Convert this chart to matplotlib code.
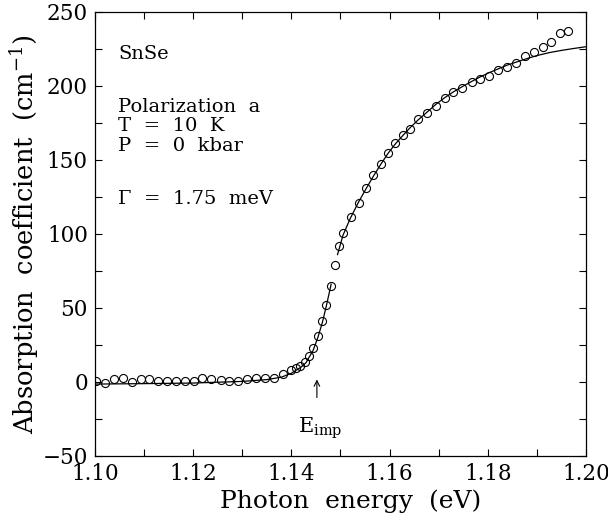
import matplotlib
matplotlib.use("Agg")
import matplotlib.pyplot as plt
from matplotlib.ticker import MultipleLocator

# measured absorption (open circles)
energy = [1.1003, 1.1021, 1.1039, 1.1058, 1.1075, 1.1093, 1.1111, 1.1129,
          1.1147, 1.1165, 1.1183, 1.1201, 1.1219, 1.1237, 1.1256, 1.1274,
          1.1292, 1.1310, 1.1328, 1.1346, 1.1364, 1.1382, 1.1399, 1.1409,
          1.1417, 1.1427, 1.1435, 1.1444, 1.1454, 1.1463, 1.1471, 1.1480,
          1.1488, 1.1497, 1.1506, 1.1521, 1.1537, 1.1552, 1.1567, 1.1582,
          1.1597, 1.1611, 1.1627, 1.1641, 1.1658, 1.1677, 1.1694, 1.1712,
          1.1730, 1.1748, 1.1767, 1.1784, 1.1803, 1.1821, 1.1839, 1.1857,
          1.1876, 1.1893, 1.1912, 1.1929, 1.1946, 1.1964]
alpha = [0.5, -0.5, 1.8, 2.3, 0.0, 1.8, 1.6, 0.5,
         0.7, 0.9, 0.9, 0.7, 2.3, 1.6, 1.1, 0.9,
         0.3, 1.8, 2.3, 2.3, 2.6, 5.2, 7.7, 9.2,
         10.6, 13.3, 17.8, 22.8, 30.9, 40.9, 51.6, 65.1,
         78.8, 92.1, 100.6, 111.3, 120.8, 130.9, 139.9, 147.0,
         154.6, 161.3, 167.1, 170.9, 177.7, 182.0, 186.3, 191.7,
         195.7, 198.4, 202.5, 204.7, 206.5, 210.8, 213.0, 215.5,
         220.5, 222.8, 226.1, 229.5, 235.6, 237.4]

# fitted curve, below and above the gap near 1.149 eV
fit_lo_e = [1.100, 1.110, 1.120, 1.130, 1.135, 1.138, 1.140, 1.142,
            1.143, 1.1435, 1.1444, 1.1454, 1.1463, 1.1471, 1.1481]
fit_lo_a = [-1.5, -1.2, -0.8, 0.3, 1.5, 3.2, 5.8, 10.0,
            13.0, 16.0, 21.0, 30.0, 40.0, 51.0, 66.0]
fit_hi_e = [1.1494, 1.1505, 1.1520, 1.1536, 1.1552, 1.1567, 1.1582, 1.1597,
            1.1611, 1.1627, 1.1641, 1.1658, 1.1677, 1.1694, 1.1712, 1.1730,
            1.1748, 1.1767, 1.1784, 1.1803, 1.1821, 1.1839, 1.1857, 1.1880,
            1.1900, 1.1925, 1.1950, 1.1975, 1.2000]
fit_hi_a = [86.0, 99.0, 110.5, 121.0, 130.5, 139.0, 147.0, 154.5,
            160.5, 166.5, 171.5, 177.0, 182.5, 187.5, 192.0, 196.0,
            199.5, 203.0, 206.0, 209.0, 211.5, 214.0, 216.0, 218.5,
            220.5, 222.5, 224.0, 225.3, 226.5]

info_lines = ["SnSe", "Polarization  a", "T  =  10  K", "P  =  0  kbar",
              "\u0393  =  1.75  meV"]
info_y = [218.4, 182.6, 169.4, 155.8, 120.5]

E_imp = 1.1452

plt.rcParams["font.family"] = ["DejaVu Serif"]
plt.rcParams["mathtext.fontset"] = "dejavuserif"

fig = plt.figure(figsize=(6.08, 5.18), dpi=100)
ax = fig.add_axes([0.156, 0.120, 0.808, 0.857])

ax.plot(energy, alpha, "o", ms=5.8, mfc="none", mec="black", mew=0.8)
ax.plot(fit_lo_e, fit_lo_a, "-", color="black", lw=0.9)
ax.plot(fit_hi_e, fit_hi_a, "-", color="black", lw=0.9)

ax.set_xlim(1.10, 1.20)
ax.set_ylim(-50, 250)
ax.xaxis.set_major_locator(MultipleLocator(0.02))
ax.xaxis.set_minor_locator(MultipleLocator(0.01))
ax.yaxis.set_major_locator(MultipleLocator(50))
ax.yaxis.set_minor_locator(MultipleLocator(25))
ax.xaxis.set_major_formatter(plt.FormatStrFormatter("%.2f"))
ax.tick_params(which="both", direction="in", top=True, right=True,
               length=5, width=0.8, labelsize=15.5, pad=5)

ax.set_xlabel("Photon  energy  (eV)", fontsize=18, labelpad=0)
ax.set_ylabel("Absorption  coefficient  (cm$^{-1}$)", fontsize=18.5,
              labelpad=1)
ax.xaxis.set_label_coords(0.52, -0.075)

for s, y in zip(info_lines, info_y):
    ax.text(1.1047, y, s, fontsize=14, va="baseline", ha="left")

ax.annotate("", xy=(E_imp, 3.5), xytext=(E_imp, -12.5),
            arrowprops=dict(arrowstyle="->", color="black", lw=0.8))
ax.text(E_imp + 0.0007, -31.5, "E$_{\\rm imp}$", fontsize=15,
        ha="center", va="center")

for sp in ax.spines.values():
    sp.set_linewidth(0.9)

fig.savefig("out.png", dpi=100)
